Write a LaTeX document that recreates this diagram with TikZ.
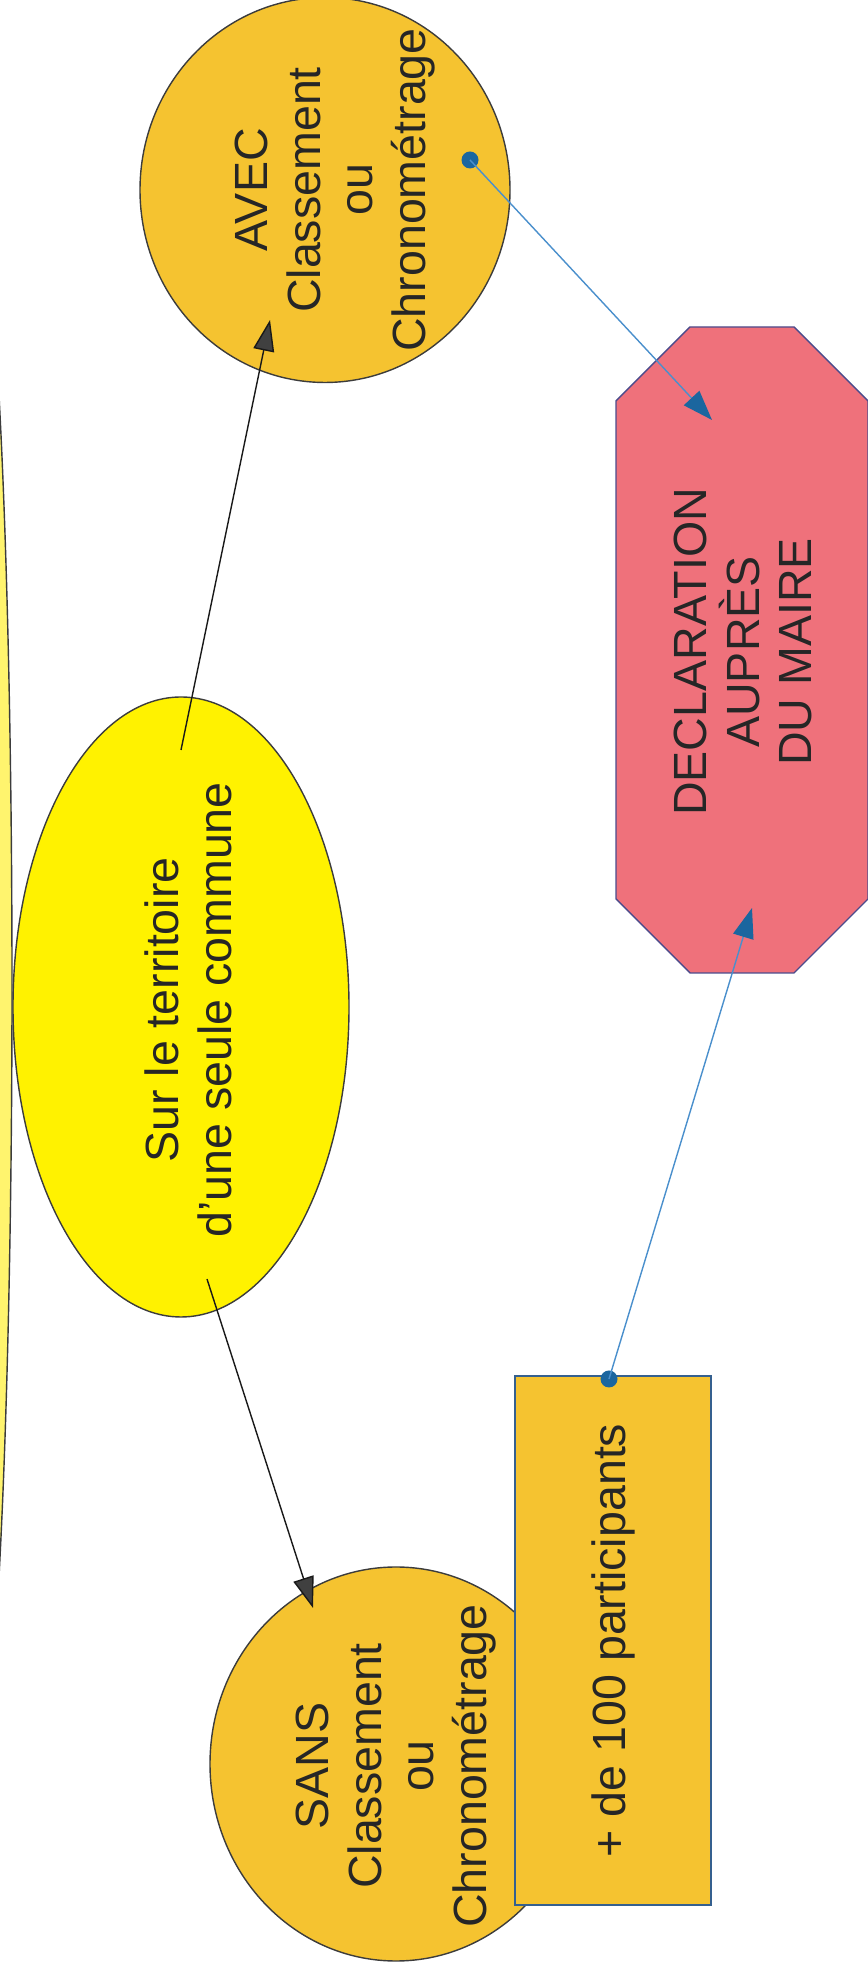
\documentclass[tikz,border=0pt]{standalone}
\usepackage{fontspec}
\setmainfont{Liberation Sans}
\usetikzlibrary{shapes.geometric,arrows.meta}

\begin{document}
\begin{tikzpicture}[
	bulle/.style={ellipse,draw=contour,line width=0.8pt,inner sep=0pt},
	texte/.style={rotate=90,align=center,text=encre,font=\fontsize{26.5}{30}\selectfont},
	pastille/.style={circle,fill=bleufonce,inner sep=0pt,minimum size=0.34cm},
	fleche/.style={line width=0.8pt,draw=black!90,-{Triangle[length=0.62cm,width=0.42cm,fill=gris]}},
	lienbleu/.style={line width=0.8pt,draw=bleu,-{Triangle[length=0.6cm,width=0.42cm,color=bleufonce]}}
	]
		\definecolor{jaune}{HTML}{FFF200}
		\definecolor{jaunepale}{HTML}{FFF46E}
		\definecolor{or}{HTML}{F5C330}
		\definecolor{rose}{HTML}{EF717B}
		\definecolor{bordrose}{HTML}{4B4B8C}
		\definecolor{cadre}{HTML}{35608F}
		\definecolor{contour}{HTML}{3C3C3C}
		\definecolor{bleu}{HTML}{4A8FCC}
		\definecolor{bleufonce}{HTML}{1B669F}
		\definecolor{gris}{HTML}{404040}
		\definecolor{encre}{HTML}{262626}
		\useasboundingbox (0,0) rectangle (17.34,39.4);
		% bord gauche
		\node[bulle,fill=jaunepale,minimum width=1.6cm,minimum height=32cm] (bord) at (-0.56,19.68) {};
		% commune
		\node[bulle,fill=jaune,minimum width=6.72cm,minimum height=12.4cm] (centre) at (3.62,19.26) {};
		\node[texte] (centreT) at (3.77,19.2) {Sur le territoire\\d’une seule commune};
		% avec / sans
		\node[bulle,fill=or,minimum width=7.4cm,minimum height=7.7cm] (avec) at (6.5,35.6) {};
		\node[texte] (avecT) at (6.7,35.6) {AVEC\\Classement\\ou\\Chronométrage};
		\node[bulle,fill=or,minimum width=7.44cm,minimum height=7.88cm] (sans) at (7.92,4.12) {};
		\node[texte] (sansT) at (7.92,4.08) {SANS\\Classement\\ou\\Chronométrage};
		% participants
		\node[texte,rectangle,draw=cadre,fill=or,line width=0.8pt,minimum width=10.58cm,minimum height=3.92cm,inner sep=0pt] (cent) at (12.26,6.59) {+ de 100 participants};
		% declaration
		\draw[draw=bordrose,fill=rose,line width=0.8pt] (12.32,21.42) -- (12.32,31.38) -- (13.8,32.86) -- (15.88,32.86) -- (17.36,31.38) -- (17.36,21.42) -- (15.88,19.94) -- (13.8,19.94) -- cycle;
		\node[texte] (decl) at (14.86,26.36) {DECLARATION\\AUPRÈS\\DU MAIRE};
		
		% liens
		\coordinate (depA) at (3.62,24.4);
		\coordinate (pointeA) at (5.4,33.0);
		\coordinate (depS) at (4.14,13.82);
		\coordinate (pointeS) at (6.26,7.24);
		\coordinate (pointeD1) at (14.24,31.0);
		\coordinate (pointeD2) at (15.04,21.24);
		\draw[fleche] (depA) -- (pointeA);
		\draw[fleche] (depS) -- (pointeS);
		\node[pastille] (pA) at (9.4,36.2) {};
		\node[pastille] (pR) at (12.18,11.82) {};
		\draw[lienbleu] (pA.center) -- (pointeD1);
		\draw[lienbleu] (pR.center) -- (pointeD2);
		
		\end{tikzpicture}
\end{document}
